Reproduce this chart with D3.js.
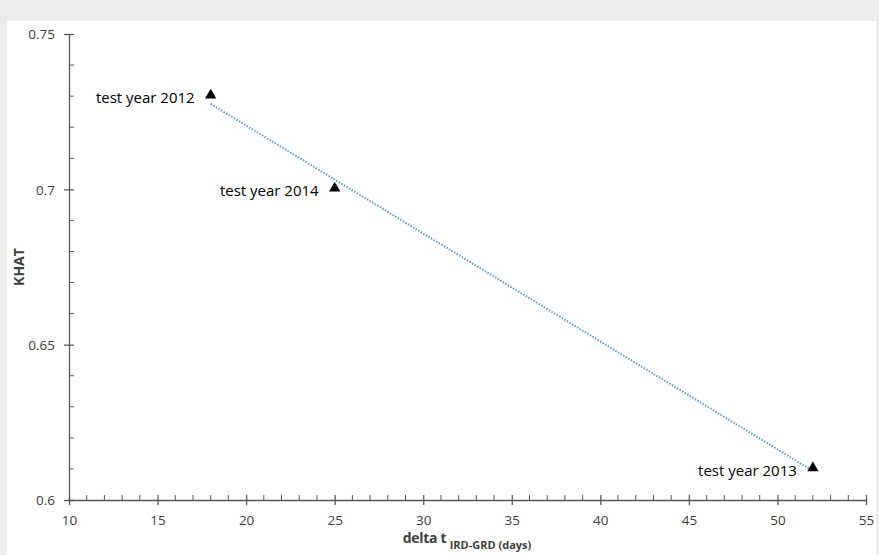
<!DOCTYPE html>
<html><head><meta charset="utf-8">
<script src="https://cdn.jsdelivr.net/npm/d3@7"></script>
<style>body{margin:0;background:#ececec;} svg{display:block;}</style>
</head><body>
<svg id="c" width="879" height="555"></svg>
<script>
const xValues = [18, 25, 52];
const yValues = [0.73, 0.70, 0.61];
const pointLabels = ["test year 2012", "test year 2014", "test year 2013"];
const xTicks = [10, 15, 20, 25, 30, 35, 40, 45, 50, 55];
const yTicks = [0.6, 0.65, 0.7, 0.75];
const yTickLabels = ["0.6", "0.65", "0.7", "0.75"];

const svg = d3.select("#c");
const W = 879, H = 555;
svg.append("rect").attr("x", 0).attr("y", 0).attr("width", W).attr("height", H).attr("fill", "#ececec");
svg.append("rect").attr("x", 7).attr("y", 21).attr("width", 869).attr("height", 534).attr("fill", "#ffffff");

const x = d3.scaleLinear().domain([10, 55]).range([69, 866]);
const y = d3.scaleLinear().domain([0.6, 0.75]).range([500, 34]);
const axisColor = "#595959";
const textColor = "#404040";
const font = "Open Sans, Liberation Sans, sans-serif";

// minor ticks
const xMinor = d3.range(10, 56, 1).filter(v => v % 5 !== 0);
svg.append("g").selectAll("line").data(xMinor).join("line")
  .attr("x1", d => x(d)).attr("x2", d => x(d)).attr("y1", y(0.6)).attr("y2", y(0.6) - 5)
  .attr("stroke", axisColor).attr("stroke-width", 1);
const yMinor = d3.range(0, 16).map(i => 0.6 + i * 0.01).filter((v, i) => i % 5 !== 0);
svg.append("g").selectAll("line").data(yMinor).join("line")
  .attr("x1", x(10)).attr("x2", x(10) + 5).attr("y1", d => y(d)).attr("y2", d => y(d))
  .attr("stroke", axisColor).attr("stroke-width", 1);

// x axis
const xAxis = svg.append("g").attr("transform", `translate(0,${y(0.6)})`)
  .call(d3.axisBottom(x).tickValues(xTicks).tickSize(5).tickSizeOuter(0));
xAxis.selectAll(".tick line").attr("y1", -5).attr("y2", 5);
// y axis
const yAxis = svg.append("g").attr("transform", `translate(${x(10)},0)`)
  .call(d3.axisLeft(y).tickValues(yTicks).tickFormat((d, i) => yTickLabels[i]).tickSize(5).tickSizeOuter(0));
yAxis.selectAll(".tick line").attr("x1", -5).attr("x2", 5);

[xAxis, yAxis].forEach(g => {
  g.select(".domain").attr("stroke", axisColor).attr("stroke-width", 1.3);
  g.selectAll(".tick line").attr("stroke", axisColor).attr("stroke-width", 1.3);
  g.selectAll(".tick text").attr("fill", textColor).style("font-family", font).style("font-size", "13.5px");
});
xAxis.selectAll(".tick text").attr("dy", "0").attr("y", 25);
yAxis.selectAll(".tick text").attr("x", -14).attr("dy", "0.35em");

// trendline (least squares)
const mx = d3.mean(xValues), my = d3.mean(yValues);
const sxy = d3.sum(xValues.map((v, i) => (v - mx) * (yValues[i] - my)));
const sxx = d3.sum(xValues.map(v => (v - mx) ** 2));
const slope = sxy / sxx, icpt = my - slope * mx;
const x0 = d3.min(xValues), x1 = d3.max(xValues);
svg.append("line")
  .attr("x1", x(x0)).attr("y1", y(icpt + slope * x0))
  .attr("x2", x(x1)).attr("y2", y(icpt + slope * x1))
  .attr("stroke", "#5b9bd5").attr("stroke-width", 2).attr("stroke-dasharray", "1.5,1.5");

// markers
const tri = d3.symbol().type(d3.symbolTriangle).size(55);
svg.append("g").selectAll("path").data(xValues).join("path")
  .attr("d", tri).attr("transform", (d, i) => `translate(${x(d)},${y(yValues[i]) - 1})`)
  .attr("fill", "#000");

// labels
svg.append("g").selectAll("text").data(pointLabels).join("text")
  .attr("x", (d, i) => x(xValues[i]) - 16).attr("y", (d, i) => y(yValues[i]) + 7)
  .attr("text-anchor", "end").attr("fill", "#000")
  .style("font-family", font).style("font-size", "15px").text(d => d);

// axis titles
svg.append("text").attr("transform", `translate(24,${y(0.675)}) rotate(-90)`)
  .attr("text-anchor", "middle").attr("fill", textColor)
  .style("font-family", font).style("font-size", "14px").style("font-weight", "bold").text("KHAT");
const xt = svg.append("text").attr("x", 467).attr("y", 543).attr("text-anchor", "middle")
  .attr("fill", textColor).style("font-family", font).style("font-weight", "bold");
xt.append("tspan").style("font-size", "14px").style("letter-spacing", "-0.3px").text("delta t ");
xt.append("tspan").style("font-size", "11px").attr("dy", 6).text("IRD-GRD (days)");
</script>
</body></html>
